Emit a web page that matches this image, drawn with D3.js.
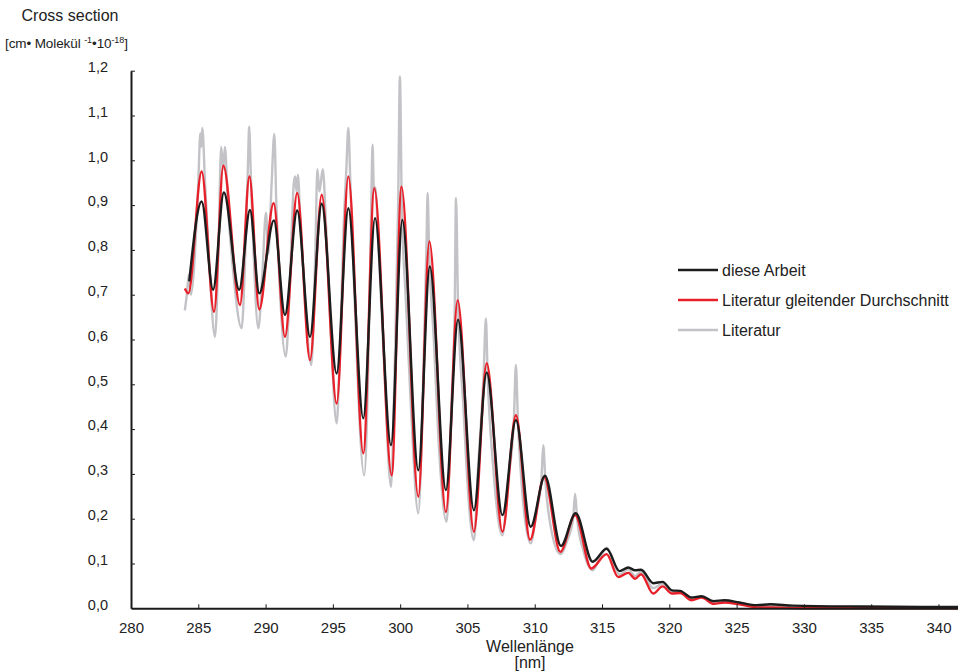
<!DOCTYPE html>
<html>
<head>
<meta charset="utf-8">
<script src="https://cdn.jsdelivr.net/npm/d3@7"></script>
<style>
  body { margin: 0; background: #fff; }
  text { font-family: "Liberation Sans", Arial, sans-serif; fill: #222; }
</style>
</head>
<body>
<div class="canvas"></div>
<script>
// values (wavelength nm, cross section 1e-18 cm²/Molekül)
const xTicks = [285, 290, 295, 300, 305, 310, 315, 320, 325, 330, 335, 340];
const yTicks = [0, 0.1, 0.2, 0.3, 0.4, 0.5, 0.6, 0.7, 0.8, 0.9, 1.0, 1.1, 1.2];

const dieseArbeit = [
  [284.33, 0.73], [285.25, 0.908], [286.1, 0.711], [286.9, 0.928], [288.04, 0.711], [288.84, 0.889],
  [289.53, 0.703], [290.62, 0.866], [291.44, 0.655], [292.35, 0.888], [293.3, 0.606], [294.17, 0.903],
  [295.28, 0.524], [296.15, 0.893], [297.26, 0.424], [298.13, 0.871], [299.32, 0.364], [300.16, 0.867],
  [301.35, 0.308], [302.2, 0.763], [303.4, 0.264], [304.3, 0.644], [305.48, 0.219], [306.43, 0.526],
  [307.6, 0.208], [308.6, 0.42], [309.7, 0.182], [310.76, 0.296], [311.95, 0.139], [313.04, 0.212],
  [314.3, 0.104], [315.34, 0.133], [316.3, 0.083], [316.95, 0.091], [317.45, 0.085], [317.9, 0.086],
  [318.8, 0.056], [319.5, 0.059], [320.2, 0.040], [320.8, 0.039], [321.65, 0.024], [322.4, 0.027],
  [323.3, 0.016], [324.1, 0.018], [325.2, 0.013], [326.5, 0.007], [327.5, 0.009], [329.2, 0.006],
  [334.2, 0.004], [341.45, 0.003]
];

const literaturMittel = [
  [284.0, 0.714], [284.26, 0.703], [285.25, 0.975], [286.17, 0.662], [286.86, 0.988], [288.1, 0.677],
  [288.8, 0.964], [289.53, 0.667], [290.6, 0.904], [291.44, 0.606], [292.35, 0.927], [293.3, 0.554],
  [294.17, 0.923], [295.28, 0.457], [296.15, 0.964], [297.26, 0.346], [298.08, 0.938], [299.37, 0.297],
  [300.1, 0.941], [301.35, 0.249], [302.17, 0.819], [303.4, 0.215], [304.27, 0.688], [305.48, 0.171],
  [306.43, 0.547], [307.6, 0.171], [308.6, 0.431], [309.65, 0.153], [310.7, 0.293], [311.9, 0.126],
  [313.0, 0.208], [314.2, 0.089], [315.34, 0.121], [316.2, 0.070], [316.95, 0.079], [317.45, 0.066],
  [317.9, 0.076], [318.8, 0.033], [319.5, 0.049], [320.2, 0.033], [320.8, 0.034], [321.65, 0.018],
  [322.4, 0.024], [323.3, 0.010], [324.1, 0.013], [325.2, 0.009], [326.5, 0.002], [327.5, 0.002],
  [330.0, 0.0], [335.0, 0.0], [341.45, 0.0]
];

const literatur = [
  [284.0, 0.665], [284.15, 0.70], [284.3, 0.745], [284.45, 0.70], [285.0, 0.95], [285.15, 1.06],
  [285.22, 1.03], [285.3, 1.072], [285.5, 0.95], [285.8, 0.78], [286.24, 0.606], [286.5, 0.80],
  [286.7, 1.03], [286.85, 0.98], [286.98, 1.03], [287.2, 0.90], [287.6, 0.75], [288.22, 0.625],
  [288.5, 0.80], [288.7, 1.0], [288.78, 1.075], [288.9, 0.97], [289.1, 0.80], [289.46, 0.625],
  [289.75, 0.74], [290.03, 0.883], [290.2, 0.79], [290.45, 0.95], [290.65, 1.059], [290.8, 0.90],
  [291.0, 0.75], [291.5, 0.562], [291.8, 0.72], [292.1, 0.95], [292.2, 0.964], [292.3, 0.93],
  [292.4, 0.968], [292.6, 0.85], [292.9, 0.70], [293.4, 0.543], [293.7, 0.80], [293.85, 0.98],
  [294.0, 0.93], [294.25, 0.98], [294.5, 0.85], [294.8, 0.65], [295.28, 0.413], [295.5, 0.55],
  [295.8, 0.85], [296.0, 0.98], [296.15, 1.072], [296.3, 0.95], [296.6, 0.70], [297.33, 0.297],
  [297.6, 0.50], [297.85, 0.90], [297.95, 1.035], [298.05, 0.93], [298.15, 0.94], [298.4, 0.80],
  [298.8, 0.55], [299.32, 0.271], [299.6, 0.55], [299.85, 0.90], [299.98, 1.187], [300.12, 0.90],
  [300.4, 0.70], [300.8, 0.45], [301.35, 0.212], [301.7, 0.50], [301.95, 0.80], [302.04, 0.927],
  [302.15, 0.80], [302.5, 0.60], [302.9, 0.35], [303.45, 0.193], [303.8, 0.45], [304.05, 0.66],
  [304.15, 0.916], [304.3, 0.68], [304.7, 0.45], [305.0, 0.28], [305.48, 0.152], [305.8, 0.32],
  [306.2, 0.52], [306.37, 0.647], [306.5, 0.52], [306.9, 0.32], [307.6, 0.163], [308.0, 0.28],
  [308.45, 0.42], [308.6, 0.543], [308.75, 0.42], [309.1, 0.25], [309.7, 0.145], [310.1, 0.21],
  [310.5, 0.29], [310.63, 0.364], [310.8, 0.28], [311.2, 0.18], [311.9, 0.121], [312.4, 0.15],
  [312.85, 0.20], [313.0, 0.256], [313.15, 0.20], [313.6, 0.13], [314.3, 0.085], [314.8, 0.11],
  [315.34, 0.135], [315.6, 0.125], [316.3, 0.075], [316.95, 0.087], [317.45, 0.072], [317.9, 0.082],
  [318.8, 0.045], [319.5, 0.055], [320.2, 0.036], [320.8, 0.037], [321.65, 0.021], [322.4, 0.026],
  [323.3, 0.013], [324.1, 0.016], [325.2, 0.011], [326.5, 0.005], [327.5, 0.006], [329.2, 0.004],
  [334.2, 0.003], [341.45, 0.002]
];

const seriesNames = ['diese Arbeit', 'Literatur gleitender Durchschnitt', 'Literatur'];
const seriesColours = ['#1c1c1c', '#e8202a', '#c3c3c7'];

const dims = { width: 958, height: 671, left: 131, right: 958, top: 70.7, bottom: 608.3 };

const svg = d3.select('.canvas')
  .append('svg')
  .attr('width', dims.width)
  .attr('height', dims.height);

const x = d3.scaleLinear().domain([280, 341.45]).range([dims.left, dims.right]);
const y = d3.scaleLinear().domain([0, 1.2]).range([dims.bottom, dims.top]);

const line = d3.line()
  .x(d => x(d[0]))
  .y(d => y(d[1]))
  .curve(d3.curveMonotoneX);

// curves, grey first so black sits on top
const data = [dieseArbeit, literaturMittel, literatur];
[2, 1, 0].forEach(i => {
  svg.append('path')
    .datum(data[i])
    .attr('fill', 'none')
    .attr('stroke', seriesColours[i])
    .attr('stroke-width', 2.4)
    .attr('stroke-linejoin', 'round')
    .attr('d', line);
});

// axes
const comma = v => d3.format('.1f')(v).replace('.', ',');

const xAxis = svg.append('g')
  .attr('transform', `translate(0,${dims.bottom})`)
  .call(d3.axisBottom(x).tickValues(xTicks.concat([280])).tickSize(0).tickPadding(0).tickFormat(d3.format('d')));
xAxis.select('.domain').attr('stroke', '#1a1a1a').attr('stroke-width', 2);
xAxis.selectAll('.tick line').remove();
xAxis.selectAll('.tick text')
  .attr('y', 25)
  .attr('dy', 0)
  .style('font-size', '15px')
  .style('font-family', '"Liberation Sans", Arial, sans-serif');
xAxis.selectAll('.tick').filter(d => d !== 280).append('line')
  .attr('y1', 0).attr('y2', -4)
  .attr('stroke', '#1a1a1a').attr('stroke-width', 1);

const yAxis = svg.append('g')
  .attr('transform', `translate(${dims.left},0)`)
  .call(d3.axisLeft(y).tickValues(yTicks).tickSize(0).tickPadding(0).tickFormat(comma));
yAxis.select('.domain').attr('stroke', '#1a1a1a').attr('stroke-width', 2);
yAxis.selectAll('.tick line').remove();
yAxis.selectAll('.tick text')
  .attr('x', -23)
  .attr('dy', '0.05em')
  .style('font-size', '14.5px')
  .style('font-family', '"Liberation Sans", Arial, sans-serif');
yAxis.selectAll('.tick').filter(d => d > 0).append('line')
  .attr('x1', 0).attr('x2', 4)
  .attr('stroke', '#1a1a1a').attr('stroke-width', 1);

// axis titles
svg.append('text')
  .attr('x', 70).attr('y', 21)
  .attr('text-anchor', 'middle')
  .style('font-size', '16px')
  .text('Cross section');

const unit = svg.append('text')
  .attr('x', 5).attr('y', 48)
  .style('font-size', '13.5px')
  .style('letter-spacing', '-0.1px');
unit.append('tspan').text('[cm\u2022 Molekül ');
unit.append('tspan').attr('dy', -5).style('font-size', '9px').text('-1');
unit.append('tspan').attr('dy', 5).text('\u202210');
unit.append('tspan').attr('dy', -5).style('font-size', '9px').text('-18');
unit.append('tspan').attr('dy', 5).text(']');

svg.append('text')
  .attr('x', 530).attr('y', 652)
  .attr('text-anchor', 'middle')
  .style('font-size', '16px')
  .text('Wellenlänge');
svg.append('text')
  .attr('x', 530).attr('y', 668)
  .attr('text-anchor', 'middle')
  .style('font-size', '16px')
  .text('[nm]');

// legend
const legend = svg.append('g').attr('transform', 'translate(678,270)');
seriesNames.forEach((name, i) => {
  const row = legend.append('g').attr('transform', `translate(0,${i * 30})`);
  row.append('line')
    .attr('x1', 0).attr('x2', 40)
    .attr('stroke', seriesColours[i])
    .attr('stroke-width', 2.4);
  row.append('text')
    .attr('x', 44).attr('y', 5.5)
    .style('font-size', '16px')
    .text(name);
});
</script>
</body>
</html>
